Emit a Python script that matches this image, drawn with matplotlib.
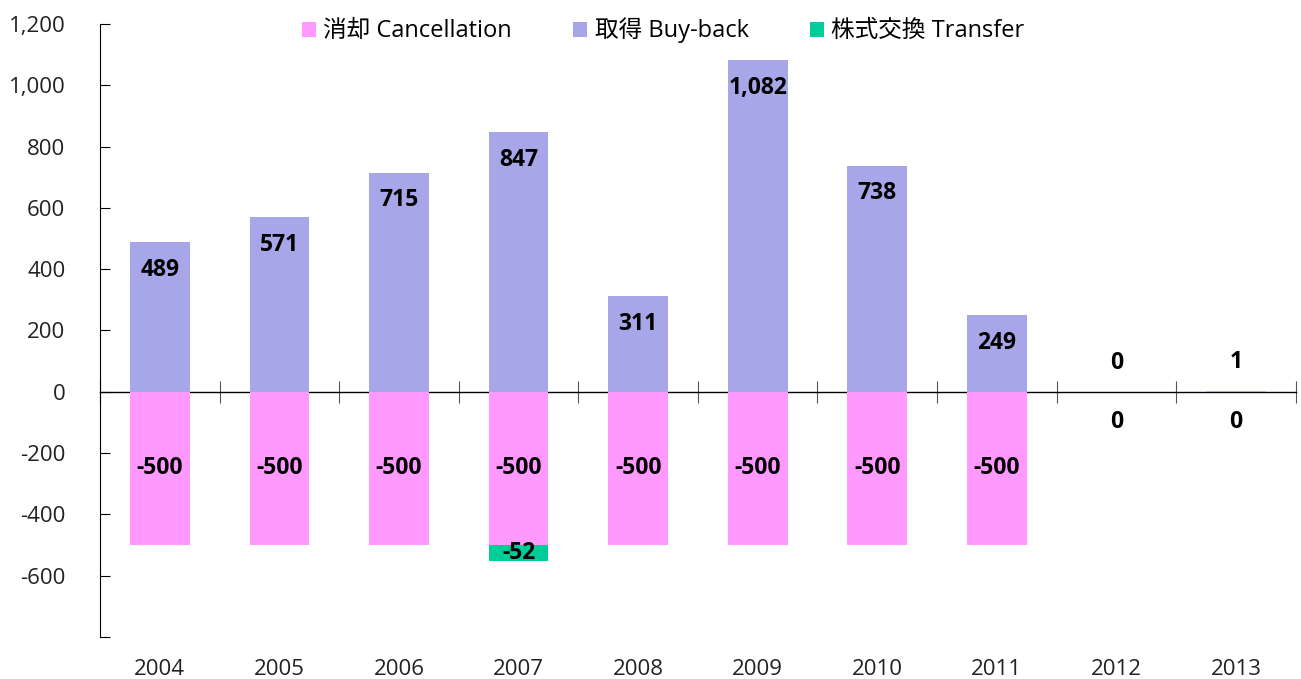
import numpy as np
import matplotlib
matplotlib.use("Agg")
import matplotlib.pyplot as plt
from matplotlib.ticker import FuncFormatter

plt.rcParams['font.family'] = ['Open Sans', 'Noto Sans CJK JP', 'DejaVu Sans']

# data
years = ['2004', '2005', '2006', '2007', '2008', '2009', '2010', '2011', '2012', '2013']
cancellation = [-500, -500, -500, -500, -500, -500, -500, -500, 0, 0]
buyback = [489, 571, 715, 847, 311, 1082, 738, 249, 0, 1]
transfer = [0, 0, 0, -52, 0, 0, 0, 0, 0, 0]

labels = ['消却 Cancellation', '取得 Buy-back', '株式交換 Transfer']
colors = ['#FF99FF', '#A6A6E8', '#00CC99']

fig = plt.figure(figsize=(13.01, 6.79), dpi=100)
ax = fig.add_axes([0.0769, 0.0619, 0.9191, 0.9028])

x = np.arange(len(years))
w = 0.5
ax.bar(x, cancellation, w, color=colors[0], label=labels[0])
ax.bar(x, buyback, w, color=colors[1], label=labels[1])
ax.bar(x, transfer, w, bottom=cancellation, color=colors[2], label=labels[2])

ax.set_xlim(-0.5, len(years) - 0.5)
ax.set_ylim(-800, 1200)

# data labels
lab_kw = dict(ha='center', va='center', fontsize=16.5, fontweight='bold', color='black')
for i, v in enumerate(buyback):
    if v > 150:
        ax.annotate(f'{v:,}', (x[i], v), xytext=(0, -20), textcoords='offset points', **lab_kw)
    else:
        ax.annotate(f'{v:,}', (x[i], v), xytext=(0, 21), textcoords='offset points', **lab_kw)
for i, v in enumerate(cancellation):
    if v < -150:
        ax.annotate(f'{v:,}', (x[i], v / 2), **lab_kw)
    else:
        ax.annotate(f'{v:,}', (x[i], v), xytext=(0, -22), textcoords='offset points', **lab_kw)
for i, v in enumerate(transfer):
    if v != 0:
        ax.annotate(f'{v:,}', (x[i], cancellation[i] + v / 2), **lab_kw)

# y axis
ax.set_yticks(np.arange(-800, 1201, 200))
ax.yaxis.set_major_formatter(FuncFormatter(lambda v, p: '' if v == -800 else f'{int(v):,}'))
ax.tick_params(axis='y', direction='in', length=7, labelsize=16, labelcolor='#222222', pad=25)
for s in ['top', 'right', 'bottom']:
    ax.spines[s].set_visible(False)

# year labels at the bottom
ax.set_xticks(x)
ax.set_xticklabels(years)
ax.tick_params(axis='x', length=0, labelsize=16, labelcolor='#222222', pad=16)

# category axis at zero with boundary ticks
sec = ax.secondary_xaxis(0, transform=ax.transData)
sec.set_xticks(np.arange(len(years) + 1) - 0.5)
sec.tick_params(axis='x', direction='inout', length=16, labelbottom=False, color='#555555')
sec.spines['bottom'].set_linewidth(1.0)

ax.legend(loc='upper center', bbox_to_anchor=(0.471, 1.045), ncol=3, frameon=False,
          fontsize=17, handlelength=0.6, handleheight=0.6, handletextpad=0.3,
          columnspacing=2.6)

fig.savefig('out.png', dpi=100)
